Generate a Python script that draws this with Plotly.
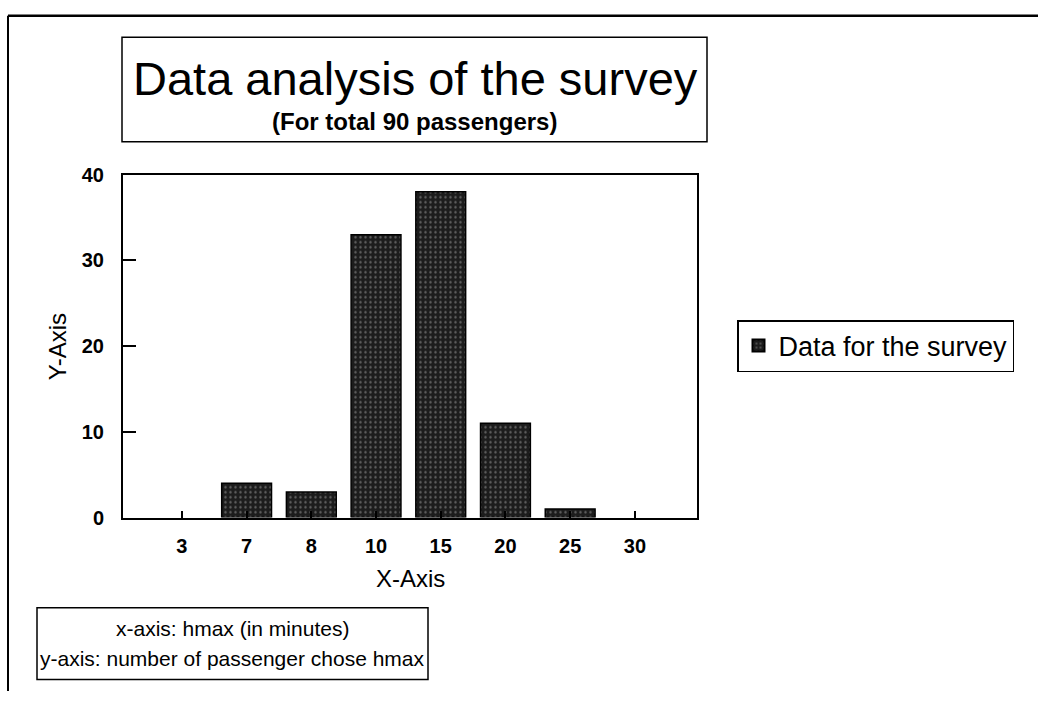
import plotly.graph_objects as go

categories = ["3", "7", "8", "10", "15", "20", "25", "30"]
values = [0, 4, 3, 33, 38, 11, 1, 0]
series_name = "Data for the survey"
title_text = "Data analysis of the survey"
subtitle_text = "(For total 90 passengers)"
note_lines = ["x-axis: hmax (in minutes)", "y-axis: number of passenger chose hmax"]
y_ticks = [0, 10, 20, 30, 40]

W, H = 1038, 702
FONT = "Liberation Sans, Arial, sans-serif"

def px(x):
    return x / W

def py(y):
    return 1 - y / H

outline_widths = [0 if v == 0 else 1.5 for v in values]

fig = go.Figure()
fig.add_trace(go.Bar(
    x=categories, y=values, name=series_name, width=0.77,
    marker=dict(color="#1c1c1c", line=dict(color="black", width=outline_widths),
                pattern=dict(shape=".", fgcolor="#a8a8a8", bgcolor="#1c1c1c", size=5, solidity=0.18)),
    showlegend=True,
))

fig.update_layout(
    width=W, height=H,
    margin=dict(l=0, r=0, t=0, b=0),
    paper_bgcolor="white", plot_bgcolor="white",
    font=dict(family=FONT, color="black"),
    showlegend=True,
    legend=dict(x=px(737), y=py(319), xanchor="left", yanchor="top",
                bordercolor="black", borderwidth=1.5, bgcolor="white",
                font=dict(size=27, family=FONT), itemsizing="constant"),
    xaxis=dict(domain=[px(123), px(697)], range=[-0.91, 7.96], type="category",
               showline=True, linecolor="black", linewidth=2, mirror=True,
               ticks="inside", ticklen=7, tickcolor="black", tickwidth=1.5,
               tickfont=dict(size=20, family=FONT, weight="bold"),
               ticklabelstandoff=9,
               showgrid=False, zeroline=False),
    yaxis=dict(domain=[py(523), py(169)], range=[0, 40], tickvals=y_ticks,
               showline=True, linecolor="black", linewidth=2, mirror=True,
               ticks="inside", ticklen=13, tickcolor="black", tickwidth=2,
               tickfont=dict(size=20, family=FONT, weight="bold"),
               ticklabelstandoff=13,
               showgrid=False, zeroline=False),
)

shapes = [
    # outer frame
    dict(type="line", xref="paper", yref="paper", x0=px(8), y0=py(5), x1=1, y1=py(5),
         line=dict(color="black", width=2.5)),
    dict(type="line", xref="paper", yref="paper", x0=px(8), y0=py(5), x1=px(8), y1=0,
         line=dict(color="black", width=2)),
    # title box
    dict(type="rect", xref="paper", yref="paper", x0=px(122), y0=py(27), x1=px(707), y1=py(135),
         line=dict(color="black", width=1.5)),
    # note box
    dict(type="rect", xref="paper", yref="paper", x0=px(37), y0=py(616), x1=px(428), y1=py(690),
         line=dict(color="black", width=1.5)),
]
fig.update_layout(shapes=shapes)

ann = [
    dict(text=title_text, x=px(415), y=py(70), font=dict(size=47, family=FONT)),
    dict(text=subtitle_text, x=px(414), y=py(114), font=dict(size=24, family=FONT, weight="bold")),
    dict(text="X-Axis", x=px(410), y=py(586), font=dict(size=24, family=FONT)),
    dict(text="Y-Axis", x=px(57), y=py(347), textangle=-90, font=dict(size=24, family=FONT)),
    dict(text=note_lines[0], x=px(232), y=py(637), font=dict(size=21, family=FONT)),
    dict(text=note_lines[1], x=px(232), y=py(668), font=dict(size=21, family=FONT)),
]
for a in ann:
    a.update(xref="paper", yref="paper", showarrow=False, xanchor="center", yanchor="middle")
fig.update_layout(annotations=ann)

fig.write_html("out.html", config={"displayModeBar": False},
               post_script="document.body.style.margin='0px';document.body.style.overflow='hidden';")
